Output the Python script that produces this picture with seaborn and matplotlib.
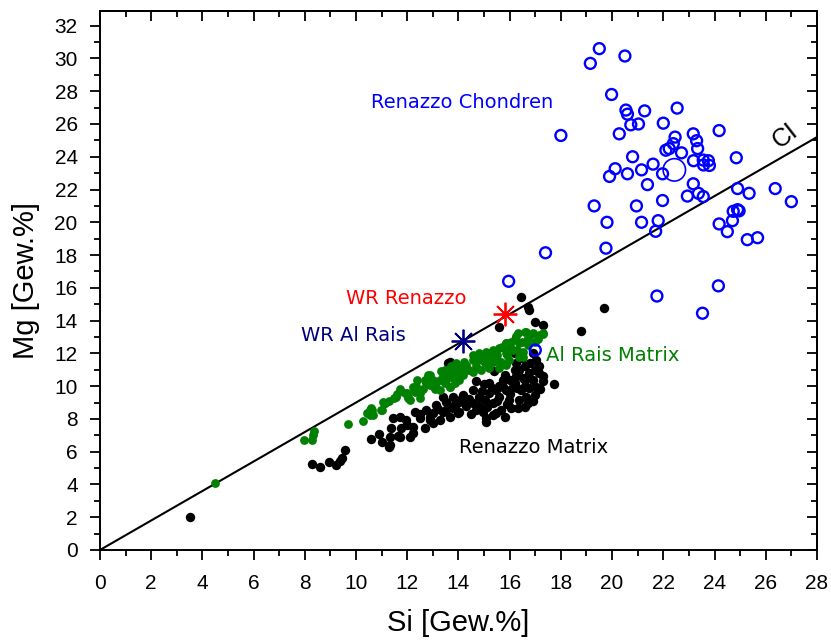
import numpy as np
import pandas as pd
import seaborn as sns
import matplotlib.pyplot as plt

# Renazzo chondrules (open blue circles)
chondren_si = [19.5, 19.15, 20.5, 19.98, 20.54, 20.6, 21.27, 22.54, 20.73, 21.03, 22.0, 20.28, 18.0,
               24.18, 22.46, 22.39, 23.17, 23.3, 23.34, 22.1, 22.23, 22.71, 20.8, 23.18, 23.56, 23.76,
               23.57, 23.8, 24.85, 21.6, 21.15, 20.12, 19.9, 20.6, 21.97, 21.38, 23.17, 22.94, 23.37,
               23.56, 24.9, 25.35, 26.37, 27.0, 21.97, 19.3, 20.95, 19.8, 21.15, 21.8, 21.7, 19.76,
               24.73, 24.9, 24.96, 24.7, 24.18, 24.5, 25.28, 25.68, 24.15, 21.75, 23.53, 17.4, 15.96, 17.0]
chondren_mg = [30.6, 29.7, 30.15, 27.8, 26.85, 26.6, 26.8, 26.97, 25.95, 26.0, 26.05, 25.4, 25.3,
               25.6, 25.2, 24.8, 25.4, 24.98, 24.5, 24.4, 24.5, 24.24, 24.0, 23.76, 23.8, 23.76,
               23.5, 23.47, 23.94, 23.55, 23.2, 23.27, 22.8, 22.96, 22.96, 22.3, 22.35, 21.6, 21.77,
               21.57, 22.06, 21.77, 22.06, 21.26, 21.33, 21.0, 21.0, 20.0, 20.0, 20.1, 19.45, 18.42,
               20.67, 20.77, 20.7, 20.1, 19.9, 19.43, 18.94, 19.06, 16.12, 15.5, 14.45, 18.14, 16.4, 12.2]
chondren_mean_si = [22.43]
chondren_mean_mg = [23.2]

# Al Rais matrix (green dots)
alrais_si = [4.49, 7.95, 8.29, 8.36, 8.3, 9.69, 10.27, 10.44, 10.6, 10.66, 11.01, 11.12, 10.53, 10.63,
             10.99, 11.12, 11.47, 11.73, 12.03, 12.11, 12.29, 12.35, 12.48, 12.68, 12.8, 12.87, 13.07,
             13.13, 13.26, 13.46, 13.65, 13.72, 13.9, 13.85, 16.31, 16.58, 16.9, 17.16, 17.29, 16.7,
             16.38, 16.06, 15.86, 16.12, 15.86, 15.6, 15.34, 15.08, 14.95, 16.51, 16.38, 15.99, 15.67,
             15.34, 15.02, 14.69, 14.56, 14.3, 14.04, 13.78, 13.52, 13.39, 13.46, 13.78, 14.17, 14.56,
             14.89, 15.21, 15.6, 15.86, 16.25, 16.51, 13.26, 13.65, 14.04, 10.53, 11.05, 11.57, 12.03,
             12.22, 12.74, 12.87, 14.56, 14.82, 15.34, 15.86, 16.64, 17.29, 12.4, 12.6, 13.0, 13.3,
             14.2, 14.4, 14.9, 15.2, 15.5, 15.7, 16.0, 16.2, 16.5, 16.8, 17.1, 14.0, 13.6, 11.9, 11.3,
             13.0, 13.9, 14.3, 14.7, 15.1, 15.5, 15.9, 16.3, 16.7, 17.0, 12.5, 12.0, 11.6, 13.5]
alrais_mg = [4.07, 6.7, 6.74, 7.25, 7.0, 7.67, 7.87, 8.35, 8.65, 8.24, 8.55, 8.96, 8.24, 8.55,
             8.55, 9.0, 9.3, 9.81, 9.26, 9.16, 9.67, 10.02, 9.26, 10.38, 10.69, 10.08, 9.81,
             10.18, 10.38, 10.99, 9.97, 11.2, 11.4, 10.18, 13.23, 13.33, 13.23, 13.13, 13.17, 12.92,
             12.62, 12.72, 12.62, 12.21, 12.01, 12.32, 12.21, 12.11, 11.8, 12.11, 11.8, 11.6, 11.5,
             11.5, 11.4, 11.6, 11.9, 11.3, 11.1, 10.99, 10.99, 10.69, 10.18, 10.49, 10.69, 10.89,
             10.99, 11.1, 11.1, 11.3, 13.03, 11.8, 9.77, 9.97, 10.38, 8.55, 9.06, 9.36, 9.36,
             9.97, 10.18, 10.69, 11.6, 12.01, 12.01, 12.62, 13.33, 13.23, 10.4, 9.8, 10.4, 10.9,
             11.5, 11.0, 11.6, 11.8, 11.9, 12.4, 12.4, 12.9, 12.7, 13.1, 12.9, 10.8, 10.6, 9.6, 9.1,
             10.0, 10.7, 11.0, 11.2, 11.5, 11.6, 11.9, 12.2, 12.5, 12.7, 9.6, 9.6, 9.5, 10.4]

# Renazzo matrix (black dots)
renazzo_si = [3.51, 8.29, 8.58, 8.94, 9.2, 9.36, 9.46, 9.57, 11.27, 11.34, 11.44, 11.63, 11.7, 11.37,
              11.7, 11.77, 11.96, 12.09, 12.22, 12.29, 12.48, 12.68, 12.74, 12.87, 13.0, 13.13, 13.26,
              13.39, 13.52, 13.65, 13.78, 13.91, 13.97, 13.59, 16.44, 16.7, 16.77, 15.6, 16.97, 17.29,
              18.79, 17.03, 17.75, 16.19, 13.65, 13.39, 19.67, 16.25, 16.38, 16.58, 16.77, 16.51, 16.9,
              17.03, 16.77, 16.97, 16.64, 16.7, 16.38, 16.12, 16.25, 15.86, 15.99, 15.6, 15.73, 15.47,
              15.34, 15.21, 15.02, 14.82, 14.56, 14.69, 14.3, 14.04, 13.78, 13.52, 14.95, 15.67, 16.06,
              16.31, 16.44, 16.19, 15.73, 15.8, 15.21, 14.56, 14.17, 13.78, 14.04, 17.16, 17.16, 15.8,
              15.34, 15.08, 11.31, 12.22, 13.0, 14.82, 15.47, 15.08, 10.6, 10.9, 11.0, 15.0, 14.7,
              15.4, 16.0, 16.6, 16.9, 17.3, 17.0,
              14.4, 14.9, 15.3, 15.6, 16.0, 16.3, 16.6, 16.2, 15.1, 15.5, 15.9, 16.6, 16.9, 14.3,
              13.9, 14.5, 13.2, 12.5, 12.0, 12.9, 16.8, 16.5, 17.2, 17.3]
renazzo_mg = [2.0, 5.25, 5.09, 5.35, 5.19, 5.46, 5.6, 6.1, 6.31, 6.92, 8.04, 6.96, 8.14, 7.43,
              6.92, 7.43, 7.94, 6.92, 7.53, 8.45, 8.04, 7.43, 8.55, 7.94, 8.35, 8.86, 7.94,
              8.45, 9.06, 8.14, 8.65, 9.16, 8.35, 11.4, 15.47, 14.86, 14.66, 13.64, 13.94, 13.74,
              13.39, 11.6, 10.1, 12.01, 11.5, 9.36, 14.78, 11.4, 10.99, 11.2, 10.79, 10.49, 10.38,
              9.97, 9.87, 9.47, 9.36, 8.96, 9.16, 9.97, 10.59, 9.77, 9.16, 9.36, 9.97, 9.77,
              8.96, 9.57, 9.16, 9.36, 8.96, 8.55, 8.76, 8.45, 8.76, 8.55, 8.45, 8.55, 8.65,
              8.65, 9.77, 10.99, 10.38, 10.69, 10.18, 9.77, 9.47, 9.36, 9.06, 10.79, 11.2, 8.14,
              8.24, 8.04, 6.41, 7.13, 7.74, 8.76, 8.35, 7.84, 6.8, 7.1, 6.6, 10.1, 10.3,
              10.9, 10.4, 10.0, 12.0, 10.3, 11.0,
              9.2, 9.7, 9.9, 10.0, 9.5, 9.9, 10.4, 10.2, 8.7, 9.1, 8.9, 8.7, 9.1, 9.0,
              8.9, 8.3, 8.6, 8.3, 7.6, 8.1, 11.4, 11.7, 9.8, 10.6]

# whole rock values
wr_renazzo = (15.8, 14.4)
wr_alrais = (14.16, 12.76)

# CI chondrite ratio line
ci_si = [0, 28]
ci_mg = [0, 25.2]

sns.set_style("ticks")
plt.rcParams['font.family'] = ['Liberation Sans', 'DejaVu Sans']
plt.rcParams.update({"text.color": "black", "axes.labelcolor": "black",
                     "xtick.color": "black", "ytick.color": "black",
                     "axes.edgecolor": "black"})

fig = plt.figure(figsize=(8.31, 6.44), dpi=100)
ax = fig.add_axes([0.1203, 0.146, 0.8628, 0.837])

sns.lineplot(x=ci_si, y=ci_mg, ax=ax, color="black", linewidth=1.5, zorder=1)

sns.scatterplot(x=renazzo_si, y=renazzo_mg, ax=ax, color="black", s=46, linewidth=0, zorder=2)
sns.scatterplot(x=alrais_si, y=alrais_mg, ax=ax, color="#008000", s=40, linewidth=0, zorder=3)
sns.scatterplot(x=chondren_si, y=chondren_mg, ax=ax, marker="o", s=62,
                facecolors="none", edgecolors="#0000ff", linewidth=1.7, zorder=4)
sns.scatterplot(x=chondren_mean_si, y=chondren_mean_mg, ax=ax, marker="o", s=260,
                facecolors="none", edgecolors="#0000ff", linewidth=1.2, zorder=4)

ax.plot([wr_renazzo[0]], [wr_renazzo[1]], marker=(8, 2, 0), markersize=17,
        color="#ff0000", markeredgewidth=1.3, linestyle="none", zorder=5)
ax.plot([wr_alrais[0]], [wr_alrais[1]], marker=(8, 2, 0), markersize=17,
        color="#000080", markeredgewidth=1.3, linestyle="none", zorder=5)

lab = dict(fontsize=14, family=['DejaVu Sans'], va="center", ha="left")
ax.text(10.6, 27.3, "Renazzo Chondren", color="#0000ff", **lab)
ax.text(9.62, 15.37, "WR Renazzo", color="#ff0000", **lab)
ax.text(7.87, 13.07, "WR Al Rais", color="#000080", **lab)
ax.text(17.4, 11.9, "Al Rais Matrix", color="#008000", **lab)
ax.text(14.04, 6.23, "Renazzo Matrix", color="black", **lab)
ax.text(26.75, 25.3, "CI", color="black", fontsize=18, rotation=38, ha="center", va="center")

ax.set_xlim(0, 28)
ax.set_ylim(0, 32.9)
ax.set_xticks(np.arange(0, 29, 2))
ax.set_yticks(np.arange(0, 33, 2))
ax.set_xticks(np.arange(1, 28, 2), minor=True)
ax.set_yticks(np.arange(1, 33, 2), minor=True)
ax.tick_params(which="major", direction="out", length=7, width=1.3, labelsize=15)
ax.tick_params(which="minor", direction="out", length=4, width=1.3)
ax.tick_params(axis="x", which="major", pad=10)
ax.tick_params(axis="y", which="major", pad=9)
# mirrored inward ticks on top/right
ax2 = ax.secondary_xaxis("top")
ax2.set_xticks(np.arange(0, 29, 2))
ax2.set_xticks(np.arange(1, 28, 2), minor=True)
ax2.tick_params(which="major", direction="in", length=7, width=1.3, labeltop=False)
ax2.tick_params(which="minor", direction="in", length=4, width=1.3)
ax3 = ax.secondary_yaxis("right")
ax3.set_yticks(np.arange(0, 33, 2))
ax3.set_yticks(np.arange(1, 33, 2), minor=True)
ax3.tick_params(which="major", direction="in", length=7, width=1.3, labelright=False)
ax3.tick_params(which="minor", direction="in", length=4, width=1.3)
for a in (ax, ax2, ax3):
    for sp in a.spines.values():
        sp.set_linewidth(1.4)
        sp.set_color("black")

ax.set_xlabel("Si [Gew.%]", fontsize=21, labelpad=12)
ax.set_ylabel("Mg [Gew.%]", fontsize=21, labelpad=10)

fig.savefig("out.png", dpi=100)
